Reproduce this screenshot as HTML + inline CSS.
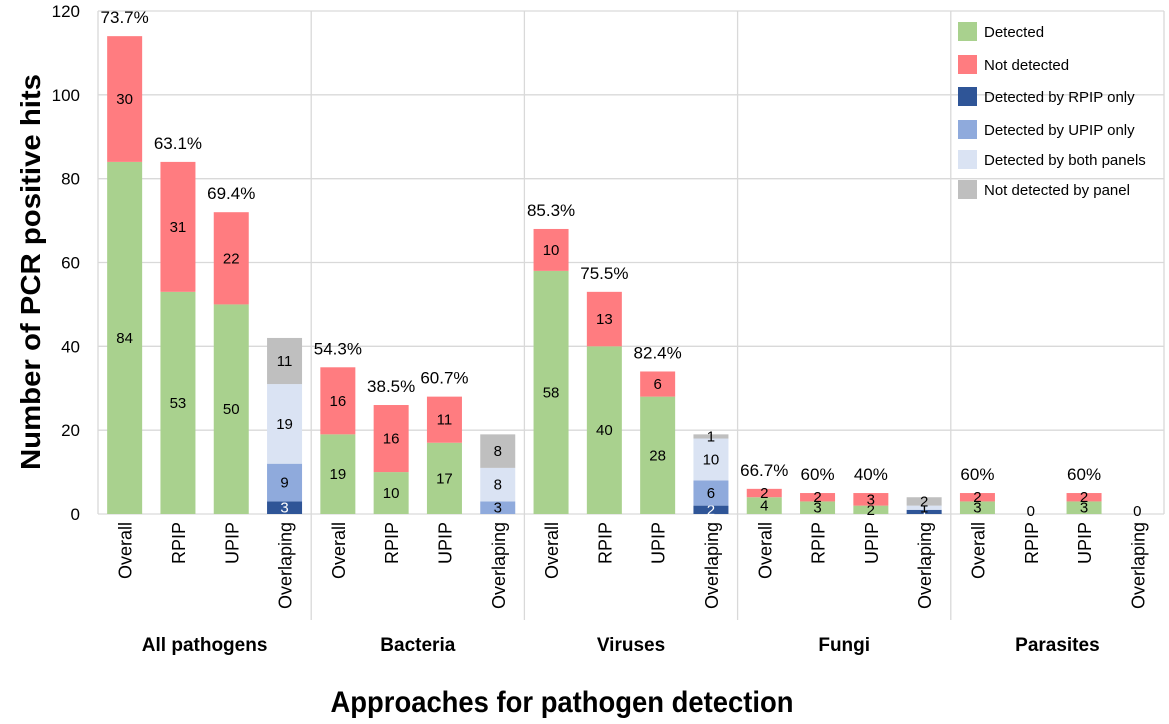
<!DOCTYPE html>
<html><head><meta charset="utf-8"><style>
html,body{margin:0;padding:0;background:#fff;}
svg{display:block;font-family:"Liberation Sans",sans-serif;}
</style></head><body>
<svg id="chart" width="1169" height="724" viewBox="0 0 1169 724" xmlns="http://www.w3.org/2000/svg"></svg>
<script>
const groups = ["All pathogens","Bacteria","Viruses","Fungi","Parasites"];
const subcats = ["Overall","RPIP","UPIP","Overlaping"];
const seriesNames = ["Detected","Not detected","Detected by RPIP only","Detected by UPIP only","Detected by both panels","Not detected by panel"];
const detected =    [84,53,50,0, 19,10,17,0, 58,40,28,0, 4,3,2,0, 3,0,3,0];
const notDetected = [30,31,22,0, 16,16,11,0, 10,13,6,0, 2,2,3,0, 2,0,2,0];
const rpipOnly =    [0,0,0,3, 0,0,0,0, 0,0,0,2, 0,0,0,1, 0,0,0,0];
const upipOnly =    [0,0,0,9, 0,0,0,3, 0,0,0,6, 0,0,0,0, 0,0,0,0];
const bothPanels =  [0,0,0,19, 0,0,0,8, 0,0,0,10, 0,0,0,1, 0,0,0,0];
const notByPanel =  [0,0,0,11, 0,0,0,8, 0,0,0,1, 0,0,0,2, 0,0,0,0];
const pctLabels = ["73.7%","63.1%","69.4%","", "54.3%","38.5%","60.7%","", "85.3%","75.5%","82.4%","", "66.7%","60%","40%","", "60%","","60%",""];
const yTicks = [0,20,40,60,80,100,120];

const colors = ["#a9d18e","#ff7c80","#2f5597","#8faadc","#dae3f3","#bfbfbf"];
const series = [detected,notDetected,rpipOnly,upipOnly,bothPanels,notByPanel];
const svg = document.getElementById('chart');
const NS = "http://www.w3.org/2000/svg";
const L=98, R=1164, T=11, B=514, YMAX=120;
const n = groups.length*subcats.length;
const step=(R-L)/n, bw=35;
const y = v => B - v/YMAX*(B-T);
const xc = i => L + step*(i+0.5);
function mk(tag, attrs, parent){const e=document.createElementNS(NS,tag);for(const k in attrs)e.setAttribute(k,attrs[k]);(parent||svg).appendChild(e);return e;}

yTicks.forEach(t=>{
  const g=mk('line',{x1:L,x2:R,y1:y(t),y2:y(t),stroke:'#d9d9d9','stroke-width':1.3});
  
  
  const tx=mk('text',{x:80,y:y(t)+6,'text-anchor':'end','font-size':17,fill:'#000'});
  tx.textContent=t;
  
  
});
mk('line',{x1:L,x2:L,y1:T,y2:B,stroke:'#d9d9d9','stroke-width':1.3});
mk('line',{x1:R,x2:R,y1:T,y2:B,stroke:'#d9d9d9','stroke-width':1.3});
for(let g=1;g<groups.length;g++){
  const sx=L+step*subcats.length*g;
  const s=mk('line',{x1:sx,x2:sx,y1:T,y2:620,stroke:'#d9d9d9','stroke-width':1.3});
  
  
}
for(let i=0;i<n;i++){
  let acc=0; const cx=xc(i);
  series.forEach((arr,s)=>{
    const v=arr[i]; if(!v) return;
    const r=mk('rect',{x:cx-bw/2,y:y(acc+v),width:bw,height:y(acc)-y(acc+v),fill:colors[s]});
    
    
    const lab=mk('text',{x:cx,y:(y(acc)+y(acc+v))/2+5,'text-anchor':'middle','font-size':15,fill:s===2?'#fff':'#000'});
    lab.textContent=v;
    
    
    acc+=v;
  });
  if(acc===0){
    const z=mk('text',{x:cx,y:B+2,'text-anchor':'middle','font-size':15,fill:'#000'});
    z.textContent='0';
    
    
  }
  if(pctLabels[i]){
    const p=mk('text',{x:cx,y:y(acc)-13,'text-anchor':'middle','font-size':17,fill:'#000'});
    p.textContent=pctLabels[i];
    
    
  }
  const c=mk('text',{x:0,y:0,'text-anchor':'end','font-size':18,fill:'#000',transform:`translate(${cx+7},522) rotate(-90)`});
  c.textContent=subcats[i%subcats.length];
  
  
}
groups.forEach((g,gi)=>{
  const gx=L+step*subcats.length*(gi+0.5);
  const t=mk('text',{x:gx,y:651,'text-anchor':'middle','font-size':19,'font-weight':'bold',fill:'#000'});
  t.textContent=g;
  
  
});
const ly=[32,65,97,130,160,190];
seriesNames.forEach((nm,s)=>{
  const r=mk('rect',{x:958,y:ly[s]-10,width:19,height:19,fill:colors[s]});
  
  
  const t=mk('text',{x:984,y:ly[s]+5,'font-size':15,fill:'#000'});
  t.textContent=nm;
  
  
});
const yt=mk('text',{x:0,y:0,'text-anchor':'middle','font-size':28,'font-weight':'bold',fill:'#000',transform:'translate(40,272) rotate(-90)',textLength:396,lengthAdjust:'spacingAndGlyphs'});
yt.textContent='Number of  PCR positive hits';


const xt=mk('text',{x:562,y:712,'text-anchor':'middle','font-size':30,'font-weight':'bold',fill:'#000',textLength:463,lengthAdjust:'spacingAndGlyphs'});
xt.textContent='Approaches for pathogen detection';


</script>
</body></html>
